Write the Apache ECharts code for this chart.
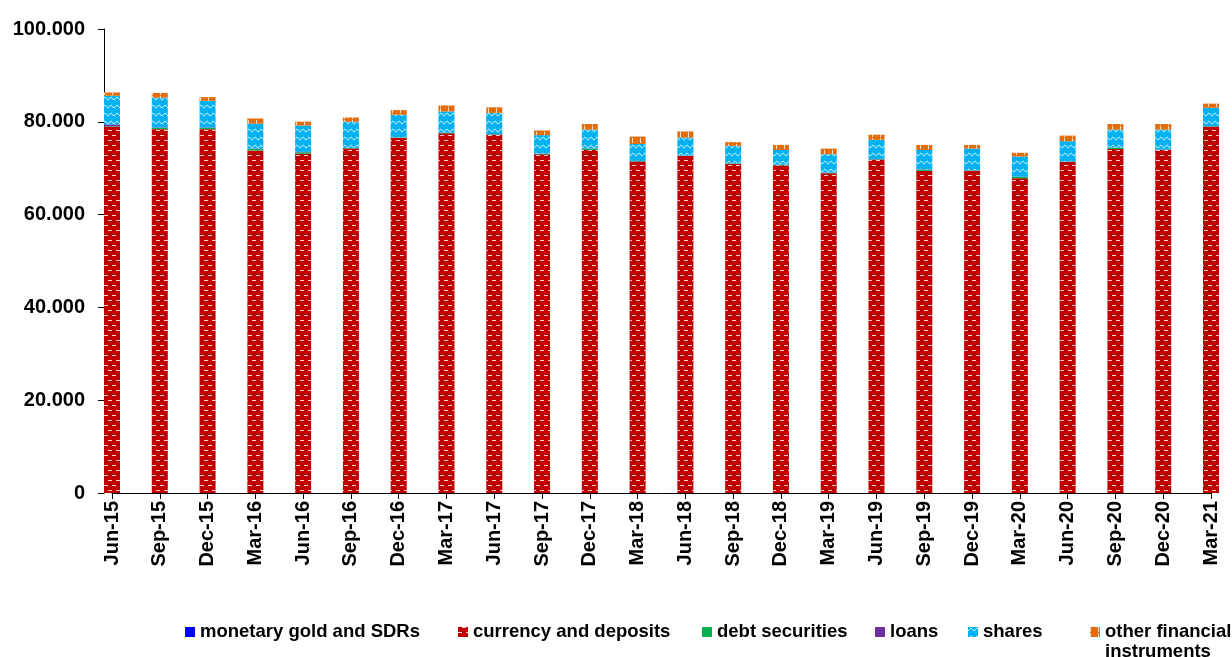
<!DOCTYPE html>
<html>
<head>
<meta charset="utf-8">
<title>financial assets</title>
<script src="https://cdn.jsdelivr.net/npm/echarts@6/dist/echarts.min.js"></script>
<style>
  html, body { margin: 0; padding: 0; background: #fff; }
  #myChart { width: 1232px; height: 657px; }
</style>
</head>
<body>
<div id="myChart"></div>
<script>
// 横轴季度
var categories = ['Jun-15', 'Sep-15', 'Dec-15', 'Mar-16', 'Jun-16', 'Sep-16', 'Dec-16', 'Mar-17',
  'Jun-17', 'Sep-17', 'Dec-17', 'Mar-18', 'Jun-18', 'Sep-18', 'Dec-18', 'Mar-19',
  'Jun-19', 'Sep-19', 'Dec-19', 'Mar-20', 'Jun-20', 'Sep-20', 'Dec-20', 'Mar-21'];

// 各项数值
var monetaryGold = [20, 20, 20, 20, 20, 20, 20, 20, 20, 20, 20, 20, 20, 20, 20, 20, 20, 20, 20, 20, 20, 20, 20, 20];
var currencyDeposits = [78900, 78400, 78400, 73800, 73100, 74200, 76500, 77500, 77200, 73000, 73900, 71400,
  72600, 70900, 70600, 68900, 71800, 69400, 69400, 67800, 71300, 74100, 73900, 78900];
var debtSecurities = [100, 250, 250, 300, 300, 100, 100, 100, 100, 100, 300, 100,
  100, 100, 100, 100, 100, 300, 100, 300, 100, 300, 100, 100];
var loans = [400, 100, 100, 100, 100, 50, 50, 50, 50, 50, 50, 50,
  50, 50, 50, 50, 50, 50, 50, 50, 50, 50, 50, 50];
var shares = [6200, 6450, 5750, 5400, 5700, 5650, 4850, 4550, 4550, 3950, 4050, 3650,
  3850, 3750, 3150, 3950, 4150, 4150, 4650, 4350, 4350, 3850, 4250, 3950];
var otherInstruments = [700, 1000, 800, 1100, 800, 900, 1000, 1300, 1200, 1000, 1200, 1600,
  1300, 800, 1100, 1200, 1100, 1100, 800, 800, 1200, 1200, 1200, 900];

// 图例名称
var legendNames = ['monetary gold and SDRs', 'currency and deposits', 'debt securities', 'loans', 'shares', 'other financial instruments'];

// 纵轴刻度
var yTicks = { min: 0, max: 100000, interval: 20000 };

var fontFamily = "'Liberation Sans', Arial, sans-serif";

function fmtThousands(v) {
  return String(v).replace(/\B(?=(\d{3})+(?!\d))/g, '.');
}

let myChart = echarts.init(document.getElementById('myChart'));

function barSeries(name, data, color, decal) {
  var s = {
    name: name,
    type: 'bar',
    stack: 'total',
    barWidth: 16,
    data: data,
    itemStyle: { color: color }
  };
  if (decal) {
    s.itemStyle.decal = decal;
  }
  return s;
}

// 花纹
var brickDecal = {
  symbol: 'rect',
  symbolSize: 1,
  color: 'rgba(255,255,255,0.8)',
  dashArrayX: [[4, 4], [0, 4, 4, 0]],
  dashArrayY: [1, 4]
};
var zigzagDecal = {
  symbol: 'path://M0,3 L3,0 L6,3 L6,4.2 L3,1.2 L0,4.2 Z',
  symbolSize: 1,
  color: 'rgba(255,255,255,0.9)',
  dashArrayX: [6, 0],
  dashArrayY: [4.2, 2.8]
};
var stripeDecal = {
  symbol: 'rect',
  symbolSize: 1,
  color: 'rgba(255,255,255,0.8)',
  dashArrayX: [1, 7],
  dashArrayY: [5, 1]
};

// 图例：每项单独定位
var legendLeft = [185, 458, 702, 875, 968, 1090];
var legendList = legendNames.map(function (name, i) {
  var last = (i === legendNames.length - 1);
  return {
    left: legendLeft[i],
    top: last ? 602 : 622,
    padding: 0,
    itemWidth: 10,
    itemHeight: 10,
    icon: 'rect',
    data: [name],
    formatter: last ? function () { return ' \nother financial\ninstruments'; } : '{name}',
    textStyle: { fontSize: 18.5, fontWeight: 'bold', color: '#000', lineHeight: 20, fontFamily: fontFamily }
  };
});

myChart.setOption({
  backgroundColor: '#ffffff',
  animation: false,
  textStyle: { fontFamily: fontFamily },
  grid: {
    top: 29,
    left: 112,
    right: 21,
    bottom: 164,
    containLabel: false
  },
  legend: legendList,
  xAxis: {
    type: 'category',
    boundaryGap: false,
    data: categories,
    axisLine: { lineStyle: { color: '#000', width: 1 } },
    axisTick: { show: true, length: 6, lineStyle: { color: '#000' } },
    axisLabel: {
      interval: 0,
      rotate: 90,
      margin: 8,
      fontSize: 20,
      fontWeight: 'bold',
      color: '#000',
      fontFamily: fontFamily
    }
  },
  yAxis: {
    type: 'value',
    min: yTicks.min,
    max: yTicks.max,
    interval: yTicks.interval,
    offset: 8,
    axisLine: { show: true, lineStyle: { color: '#000', width: 1 } },
    axisTick: { show: true, length: 6, lineStyle: { color: '#000' } },
    splitLine: { show: false },
    axisLabel: {
      margin: 19,
      fontSize: 20,
      fontWeight: 'bold',
      color: '#000',
      fontFamily: fontFamily,
      formatter: fmtThousands
    }
  },
  series: [
    barSeries(legendNames[0], monetaryGold, '#0000FF'),
    barSeries(legendNames[1], currencyDeposits, '#C00000', brickDecal),
    barSeries(legendNames[2], debtSecurities, '#00B050'),
    barSeries(legendNames[3], loans, '#7030A0'),
    barSeries(legendNames[4], shares, '#00B0F0', zigzagDecal),
    barSeries(legendNames[5], otherInstruments, '#E46C0A', stripeDecal)
  ]
});
</script>
</body>
</html>
